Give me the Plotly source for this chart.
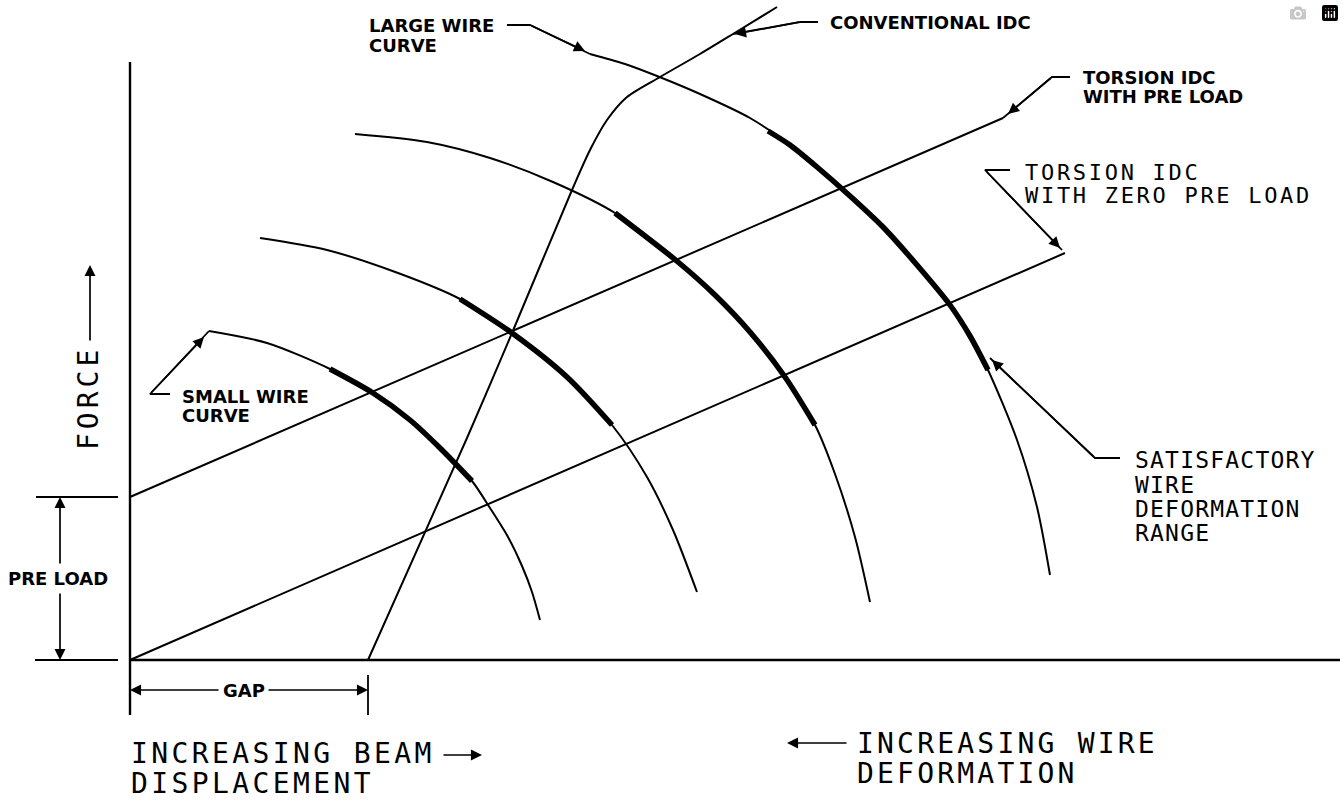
import plotly.graph_objects as go

# ---------------- data (diagram units = pixels of the sheet, y grows downward) ----------------
# Axes of the force / displacement diagram
AXIS_V_X = [130, 130]
AXIS_V_Y = [62, 715]
AXIS_H_X = [130, 1340]
AXIS_H_Y = [660, 660]

# Torsion IDC lines
TORSION_PRE_X = [130, 1003]
TORSION_PRE_Y = [497, 118]
TORSION_ZERO_X = [130, 1065]
TORSION_ZERO_Y = [660, 253]

# Conventional IDC curve
CONV_X = [368, 467, 512, 572, 590, 607, 627, 660, 700, 733, 777]
CONV_Y = [660, 438, 333, 190, 150, 120, 97, 77, 54, 34, 7]

# Wire curves (full) and their satisfactory (thick) portions
WIRE1_X = [209, 267, 330, 373, 410, 440, 472, 490, 508, 522, 532, 540]
WIRE1_Y = [331, 343, 369, 393, 420, 448, 481, 508, 537, 566, 592, 620]
WIRE1_THICK_X = [330, 373, 410, 440, 472]
WIRE1_THICK_Y = [369, 393, 420, 448, 481]

WIRE2_X = [260, 327, 398, 460, 512, 567, 612, 647, 673, 697]
WIRE2_Y = [238, 250, 273, 299, 333, 377, 425, 477, 530, 592]
WIRE2_THICK_X = [460, 512, 567, 612]
WIRE2_THICK_Y = [299, 333, 377, 425]

WIRE3_X = [355, 427, 490, 553, 615, 678, 715, 750, 785, 815, 835, 855, 870]
WIRE3_Y = [134, 142, 158, 182, 213, 262, 295, 332, 377, 425, 474, 537, 602]
WIRE3_THICK_X = [615, 678, 715, 750, 785, 815]
WIRE3_THICK_Y = [213, 262, 295, 332, 377, 425]

WIRE4_X = [590, 625, 657, 700, 750, 790, 817, 850, 883, 917, 950, 970, 988, 1017, 1037, 1050]
WIRE4_Y = [54, 64, 76, 94, 118, 145, 167, 196, 227, 265, 305, 336, 370, 440, 507, 575]
WIRE4_THICK_X = [768, 790, 817, 850, 883, 917, 950, 970, 988]
WIRE4_THICK_Y = [131, 145, 167, 196, 227, 265, 305, 336, 370]

# Leader lines (polyline) : x list, y list
LEADER_LARGE = ([507, 530, 590], [25, 25, 54])
LEADER_CONV = ([818, 800, 733], [22, 22, 34])
LEADER_TPRE = ([1070, 1052, 1003], [77, 77, 118])
LEADER_TZERO = ([1010, 985, 1062], [170, 170, 250])
LEADER_SMALL = ([170, 150, 209], [394, 394, 331])
LEADER_SAT = ([1120, 1095, 990], [458, 458, 358])

# Dimension / extension lines
EXT_PRE_TOP = ([36, 118], [497, 497])
EXT_PRE_BOT = ([35, 118], [660, 660])
EXT_GAP = ([368, 368], [675, 715])

# Arrows: (head_x, head_y, tail_x, tail_y)
ARROWS = [
    (585, 51, 530, 25),      # large wire leader
    (735, 34, 800, 22),      # conventional leader
    (1008, 114, 1052, 77),   # torsion pre load leader
    (1060, 248, 985, 170),   # torsion zero pre load leader
    (204, 337, 150, 394),    # small wire leader
    (992, 360, 1095, 458),   # satisfactory leader
    (60, 497, 60, 565),      # pre load dim top
    (60, 660, 60, 592),      # pre load dim bottom
    (130, 690, 220, 690),    # gap dim left
    (368, 690, 267, 690),    # gap dim right
    (90, 265, 90, 342),      # force arrow
    (482, 755, 442, 755),    # beam displacement arrow
    (787, 743, 848, 743),    # wire deformation arrow
]

# Text labels: (text, x, y, size, style, letter spacing)
LABELS = [
    ("LARGE WIRE", 368, 25, 18, "small", 0),
    ("CURVE", 368, 45, 18, "small", 0),
    ("CONVENTIONAL IDC", 829, 22, 18, "small", 0),
    ("TORSION IDC", 1082, 77, 18, "small", 0),
    ("WITH PRE LOAD", 1082, 96, 18, "small", 0),
    ("TORSION IDC", 1024, 172, 22, "mono", 2.7),
    ("WITH ZERO PRE LOAD", 1024, 195, 22, "mono", 2.7),
    ("SMALL WIRE", 181, 396, 18, "small", 0),
    ("CURVE", 181, 415, 18, "small", 0),
    ("SATISFACTORY", 1134, 460, 23, "mono", 1.2),
    ("WIRE", 1134, 485, 23, "mono", 1.2),
    ("DEFORMATION", 1134, 509, 23, "mono", 1.2),
    ("RANGE", 1134, 533, 23, "mono", 1.2),
    ("PRE LOAD", 7, 578, 18, "small", 0),
    ("GAP", 222, 690, 18, "small", 0),
    ("INCREASING BEAM", 130, 753, 28, "mono", 3.4),
    ("DISPLACEMENT", 130, 783, 28, "mono", 3.4),
    ("INCREASING WIRE", 856, 743, 28, "mono", 3.2),
    ("DEFORMATION", 856, 773, 28, "mono", 3.2),
]
FORCE_LABEL = ("FORCE", 88, 398, 28, 4.0)

# ---------------- figure ----------------
THIN = 2.0
THICK = 5.5
fig = go.Figure()


def add_line(xs, ys, width=THIN, spline=False):
    fig.add_trace(go.Scatter(
        x=xs, y=ys, mode="lines", hoverinfo="skip",
        line=dict(color="black", width=width,
                  shape="spline" if spline else "linear", smoothing=0.8)))


add_line(AXIS_V_X, AXIS_V_Y, 2.4)
add_line(AXIS_H_X, AXIS_H_Y, 2.4)
add_line(TORSION_PRE_X, TORSION_PRE_Y)
add_line(TORSION_ZERO_X, TORSION_ZERO_Y)
add_line(CONV_X, CONV_Y, spline=True)
for xs, ys in [(WIRE1_X, WIRE1_Y), (WIRE2_X, WIRE2_Y), (WIRE3_X, WIRE3_Y), (WIRE4_X, WIRE4_Y)]:
    add_line(xs, ys, spline=True)
for xs, ys in [(WIRE1_THICK_X, WIRE1_THICK_Y), (WIRE2_THICK_X, WIRE2_THICK_Y),
               (WIRE3_THICK_X, WIRE3_THICK_Y), (WIRE4_THICK_X, WIRE4_THICK_Y)]:
    add_line(xs, ys, THICK, spline=True)
for xs, ys in [LEADER_LARGE, LEADER_CONV, LEADER_TPRE, LEADER_TZERO, LEADER_SMALL, LEADER_SAT,
               EXT_PRE_TOP, EXT_PRE_BOT, EXT_GAP]:
    add_line(xs, ys, 1.8)

for hx, hy, tx, ty in ARROWS:
    fig.add_annotation(x=hx, y=hy, ax=tx, ay=ty, xref="x", yref="y", axref="x", ayref="y",
                       text="", showarrow=True, arrowhead=2, arrowsize=1.3,
                       arrowwidth=1.7, arrowcolor="black", standoff=0)

FONTS = {"small": "DejaVu Sans", "mono": "DejaVu Sans Mono"}
for txt, x, y, size, style, ls in LABELS:
    if style == "small":
        t = "<b>%s</b>" % txt
    else:
        t = '<span style="letter-spacing:%.1fpx">%s</span>' % (ls, txt)
    fig.add_annotation(x=x, y=y, xref="x", yref="y", text=t, showarrow=False,
                       xanchor="left", yanchor="middle", borderpad=0,
                       font=dict(family=FONTS[style], size=size, color="black"))

ftxt, fx, fy, fsize, fls = FORCE_LABEL
fig.add_annotation(x=fx, y=fy, xref="x", yref="y",
                   text='<span style="letter-spacing:%.1fpx">%s</span>' % (fls, ftxt),
                   showarrow=False, textangle=-90, xanchor="center", yanchor="middle",
                   borderpad=0, font=dict(family="DejaVu Sans Mono", size=fsize, color="black"))

fig.update_layout(
    width=1344, height=802, margin=dict(l=0, r=0, t=0, b=0),
    paper_bgcolor="white", plot_bgcolor="white", showlegend=False,
    xaxis=dict(range=[0, 1344], visible=False, fixedrange=True),
    yaxis=dict(range=[802, 0], visible=False, fixedrange=True),
)

fig.write_html("out.html", post_script="document.body.style.margin='0';")
